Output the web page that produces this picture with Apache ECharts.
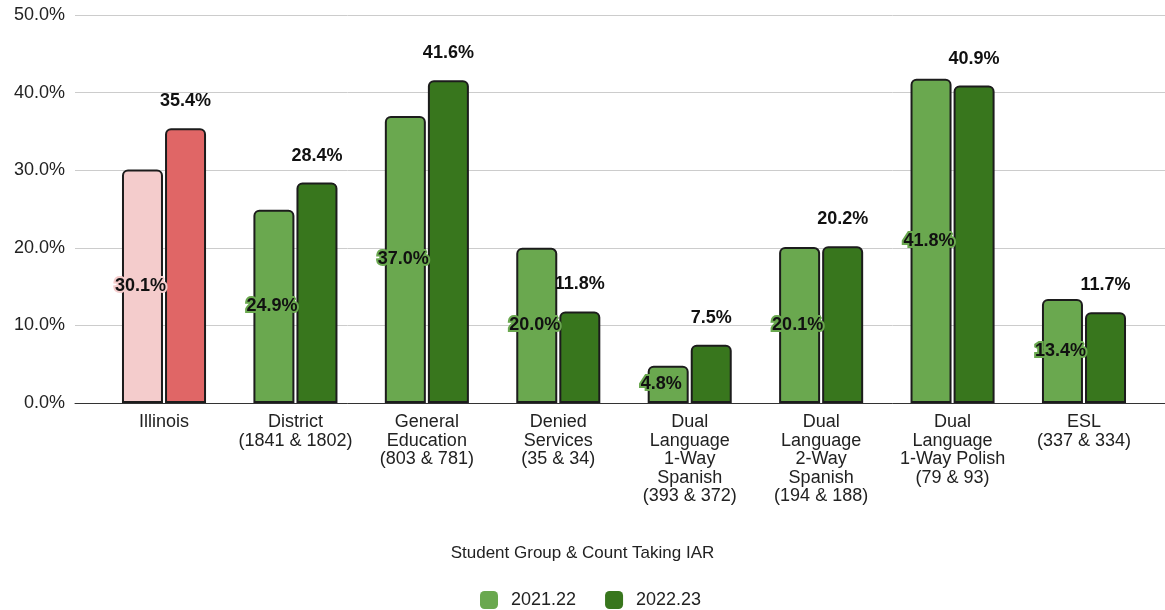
<!DOCTYPE html>
<html>
<head>
<meta charset="utf-8">
<script src="https://cdn.jsdelivr.net/npm/echarts@6/dist/echarts.min.js"></script>
<style>
  html, body { margin: 0; padding: 0; background: #fff; }
  #chart { width: 1165px; height: 610px; }
</style>
</head>
<body>
<div id="chart"></div>
<script>
// Student groups (with counts for each year) on the category axis
const categories = [
  'Illinois',
  'District\n(1841 & 1802)',
  'General\nEducation\n(803 & 781)',
  'Denied\nServices\n(35 & 34)',
  'Dual\nLanguage\n1-Way\nSpanish\n(393 & 372)',
  'Dual\nLanguage\n2-Way\nSpanish\n(194 & 188)',
  'Dual\nLanguage\n1-Way Polish\n(79 & 93)',
  'ESL\n(337 & 334)'
];
const seriesNames = ['2021.22', '2022.23'];
const values2122 = [30.1, 24.9, 37.0, 20.0, 4.8, 20.1, 41.8, 13.4];
const values2223 = [35.4, 28.4, 41.6, 11.8, 7.5, 20.2, 40.9, 11.7];
const yTicks = { min: 0, max: 50, interval: 10 };

// Colours: statewide group in reds, local groups in greens
const colors2122 = { base: '#6aa84f', state: '#f4cccc' };
const colors2223 = { base: '#38761d', state: '#e06666' };

const fontFamily = '"Liberation Sans", Arial, Helvetica, sans-serif';
const pct = v => v.toFixed(1) + '%';

function buildData(values, palette) {
  return values.map((v, i) => {
    const c = i === 0 ? palette.state : palette.base;
    return {
      value: v,
      itemStyle: { color: c },
      label: { textBorderColor: c }
    };
  });
}

const chart = echarts.init(document.getElementById('chart'), null, { renderer: 'canvas' });

const barCommon = {
  type: 'bar',
  xAxisIndex: 1,
  yAxisIndex: 1,
  barWidth: 41,
  barGap: '5%',
  itemStyle: { borderColor: '#1c1c1c', borderWidth: 2, borderRadius: [5, 5, 0, 0] }
};

chart.setOption({
  animation: false,
  backgroundColor: '#ffffff',
  textStyle: { fontFamily: fontFamily },
  title: {
    text: 'Student Group & Count Taking IAR',
    left: 'center',
    top: 540,
    textStyle: { fontSize: 17, fontWeight: 'normal', color: '#222', fontFamily: fontFamily }
  },
  legend: {
    data: seriesNames,
    top: 586,
    left: 475,
    itemWidth: 18,
    itemHeight: 18,
    itemGap: 29,
    icon: 'roundRect',
    itemStyle: { borderWidth: 0 },
    textStyle: { fontSize: 18, color: '#222', padding: [0, 0, 0, 8], fontFamily: fontFamily }
  },
  grid: [
    // full-width grid carrying the gridlines, y labels and baseline
    { left: 75, right: 0, top: 15, bottom: 207, containLabel: false },
    // inner grid holding the category axis and bars
    { left: 98.3, right: 15.3, top: 15, bottom: 207, containLabel: false }
  ],
  xAxis: [
    {
      gridIndex: 0,
      type: 'category',
      data: [''],
      axisLine: { show: true, lineStyle: { color: '#333', width: 1 } },
      axisTick: { show: false },
      axisLabel: { show: false }
    },
    {
      gridIndex: 1,
      type: 'category',
      data: categories,
      axisLine: { show: false },
      axisTick: { show: false },
      axisLabel: {
        interval: 0,
        margin: 10,
        fontSize: 18,
        lineHeight: 18.5,
        color: '#222',
        fontFamily: fontFamily
      }
    }
  ],
  yAxis: [
    {
      gridIndex: 0,
      type: 'value',
      min: yTicks.min,
      max: yTicks.max,
      interval: yTicks.interval,
      axisLine: { show: false },
      axisTick: { show: false },
      axisLabel: {
        margin: 10,
        fontSize: 18,
        color: '#222',
        fontFamily: fontFamily,
        formatter: v => pct(v)
      },
      splitLine: { show: true, lineStyle: { color: '#cccccc', width: 1 } }
    },
    {
      gridIndex: 1,
      type: 'value',
      min: yTicks.min,
      max: yTicks.max,
      interval: yTicks.interval,
      show: false,
      splitLine: { show: false }
    }
  ],
  series: [
    Object.assign({}, barCommon, {
      name: seriesNames[0],
      color: colors2122.base,
      data: buildData(values2122, colors2122),
      label: {
        show: true,
        position: 'insideLeft',
        distance: 0,
        offset: [-7, 0],
        fontSize: 18,
        fontWeight: 'bold',
        color: '#111',
        textBorderWidth: 4,
        fontFamily: fontFamily,
        formatter: p => pct(p.value)
      }
    }),
    Object.assign({}, barCommon, {
      name: seriesNames[1],
      color: colors2223.base,
      data: values2223.map((v, i) => ({
        value: v,
        itemStyle: { color: i === 0 ? colors2223.state : colors2223.base }
      })),
      label: {
        show: true,
        position: 'top',
        distance: 18,
        fontSize: 18,
        fontWeight: 'bold',
        color: '#111',
        fontFamily: fontFamily,
        formatter: p => pct(p.value)
      }
    })
  ]
});
</script>
</body>
</html>
